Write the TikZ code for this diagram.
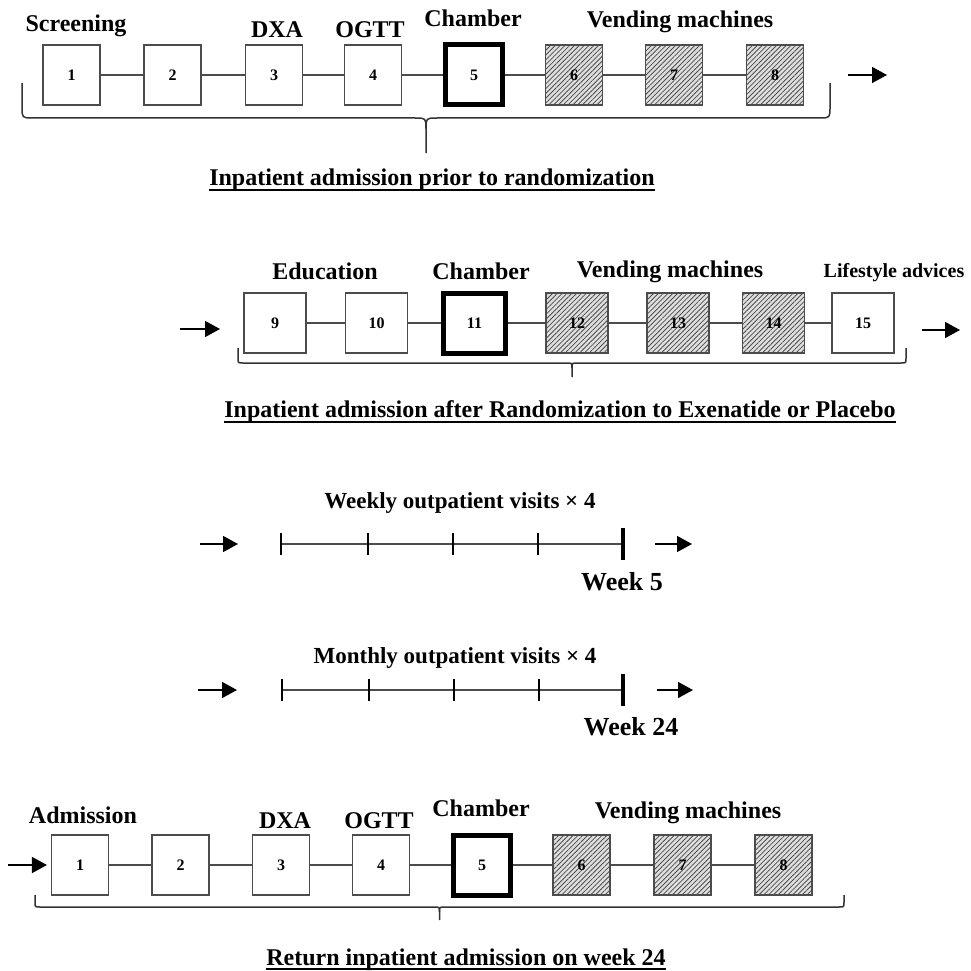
\documentclass[tikz,border=0pt]{standalone}
\usepackage{fontspec}
\setmainfont{Liberation Serif}
\usetikzlibrary{arrows.meta,patterns.meta}
\newcommand\fsz[1]{\fontsize{#1}{#1}\selectfont\bfseries}
\newcommand\mybrace[7]{%
 \draw[brc] (#1,#3) -- (#1,#4-#7) .. controls (#1,#4) .. (#1+#7,#4) -- (#6-#7,#4) .. controls (#6,#4) .. (#6,#4+#7) -- (#6,#5);
 \draw[brc] (#6,#4+#7) .. controls (#6,#4) .. (#6+#7,#4) -- (#2-#7,#4) .. controls (#2,#4) .. (#2,#4-#7) -- (#2,#3);}
\begin{document}
\begin{tikzpicture}[x=1pt,y=-1pt,
 box/.style={draw=black!70,line width=1.1pt,minimum width=57pt,minimum height=60pt,inner sep=0pt,font=\fsz{16}},
 wbox/.style={box,minimum width=62pt},
 chamb/.style={draw=black,line width=5pt},
 vend/.style={fill=gray!25,postaction={pattern={Lines[angle=45,distance=3.4pt,line width=0.8pt]},pattern color=black!70}},
 lbl/.style={anchor=base,inner sep=0pt,font=\fsz{24}},
 slbl/.style={anchor=base,inner sep=0pt,font=\fsz{20}},
 wlbl/.style={anchor=base,inner sep=0pt,font=\fsz{26}},
 ttl/.style={anchor=base,inner sep=0pt,font=\fsz{24}},
 uline/.style={line width=1.5pt},
 conn/.style={draw=black!70,line width=1.1pt},
 brc/.style={draw=black!80,line width=1.5pt},
 arr/.style={line width=1.5pt,-{Triangle[length=15pt,width=16pt]}},
 tl/.style={draw=black!70,line width=1.1pt},
 tick/.style={line width=2pt},
 bigtick/.style={line width=4.5pt}]
\useasboundingbox (0,0) rectangle (971,971);
% ---------- Row 1
\node[box] (a1) at (71.5,75) {1};
\node[box] (a2) at (172.5,75) {2};
\node[box] (a3) at (274,75) {3};
\node[box] (a4) at (373,75) {4};
\node[box,chamb] (a5) at (474,75) {5};
\node[box,vend] (a6) at (574,75) {6};
\node[box,vend] (a7) at (674,75) {7};
\node[box,vend] (a8) at (775,75) {8};
\foreach \i/\j in {1/2,2/3,3/4,4/5,5/6,6/7,7/8} \draw[conn] (a\i) -- (a\j);
\node[lbl] (la1) at (76,32) {Screening};
\node[lbl] (la3) at (277,38) {DXA};
\node[lbl] (la4) at (370,38) {OGTT};
\node[lbl] (la5) at (473,27) {Chamber};
\node[lbl] (la7) at (680,28) {Vending machines};
\coordinate (ar1s) at (848,75); \coordinate (ar1e) at (887,75);
\draw[arr] (ar1s) -- (ar1e);
\mybrace{22}{830}{83}{118}{153}{426}{11}
\node[ttl] (t1) at (432,185) {Inpatient admission prior to randomization};
\draw[uline] ([yshift=-5pt]t1.base west) -- ([yshift=-5pt]t1.base east);
% ---------- Row 2
\node[wbox] (b9) at (275,323) {9};
\node[wbox] (b10) at (376.5,323) {10};
\node[wbox,chamb] (b11) at (474.5,323) {11};
\node[wbox,vend] (b12) at (577,323) {12};
\node[wbox,vend] (b13) at (678,323) {13};
\node[wbox,vend] (b14) at (773.5,323) {14};
\node[wbox] (b15) at (863,323) {15};
\foreach \i/\j in {9/10,10/11,11/12,12/13,13/14,14/15} \draw[conn] (b\i) -- (b\j);
\node[lbl] (lb9) at (325,279) {Education};
\node[lbl] (lb11) at (481,279) {Chamber};
\node[lbl] (lb13) at (670,277) {Vending machines};
\node[slbl] (lb15) at (894,277) {Lifestyle advices};
\coordinate (ar2s) at (180,329); \coordinate (ar2e) at (220,329);
\draw[arr] (ar2s) -- (ar2e);
\coordinate (ar3s) at (922,330); \coordinate (ar3e) at (960,330);
\draw[arr] (ar3s) -- (ar3e);
\mybrace{238}{906}{348}{363}{377}{572}{5}
\node[ttl] (t2) at (560,417) {Inpatient admission after Randomization to Exenatide or Placebo};
\draw[uline] ([yshift=-5pt]t2.base west) -- ([yshift=-5pt]t2.base east);
% ---------- Row 3
\node[lbl,font=\fsz{23}] (l3) at (460,508) {Weekly outpatient visits × 4};
\coordinate (ar4s) at (200,544); \coordinate (ar4e) at (238,544);
\draw[arr] (ar4s) -- (ar4e);
\coordinate (w0) at (281,544); \coordinate (w1) at (368,544); \coordinate (w2) at (453,544);
\coordinate (w3) at (538,544); \coordinate (w4) at (623,544);
\draw[tl] (w0) -- (w4);
\foreach \c in {w0,w1,w2,w3} \draw[tick] ([yshift=11pt]\c) -- ([yshift=-11pt]\c);
\draw[bigtick] ([yshift=16pt]w4) -- ([yshift=-16pt]w4);
\coordinate (ar5s) at (655,544); \coordinate (ar5e) at (692,544);
\draw[arr] (ar5s) -- (ar5e);
\node[wlbl] (wk5) at (622,590) {Week 5};
% ---------- Row 4
\node[lbl,font=\fsz{23}] (l4) at (455,663) {Monthly outpatient visits × 4};
\coordinate (ar6s) at (198,690); \coordinate (ar6e) at (237,690);
\draw[arr] (ar6s) -- (ar6e);
\coordinate (m0) at (282,690); \coordinate (m1) at (369,690); \coordinate (m2) at (454,690);
\coordinate (m3) at (539,690); \coordinate (m4) at (623,690);
\draw[tl] (m0) -- (m4);
\foreach \c in {m0,m1,m2,m3} \draw[tick] ([yshift=11pt]\c) -- ([yshift=-11pt]\c);
\draw[bigtick] ([yshift=16pt]m4) -- ([yshift=-16pt]m4);
\coordinate (ar7s) at (657,690); \coordinate (ar7e) at (693,690);
\draw[arr] (ar7s) -- (ar7e);
\node[wlbl] (wk24) at (631,735) {Week 24};
% ---------- Row 5
\node[box] (c1) at (80,865) {1};
\node[box] (c2) at (180.5,865) {2};
\node[box] (c3) at (281,865) {3};
\node[box] (c4) at (381,865) {4};
\node[box,chamb] (c5) at (482,865) {5};
\node[box,vend] (c6) at (581.5,865) {6};
\node[box,vend] (c7) at (682.5,865) {7};
\node[box,vend] (c8) at (783.5,865) {8};
\foreach \i/\j in {1/2,2/3,3/4,4/5,5/6,6/7,7/8} \draw[conn] (c\i) -- (c\j);
\node[lbl] (lc1) at (83,823) {Admission};
\node[lbl] (lc3) at (285,828) {DXA};
\node[lbl] (lc4) at (379,828) {OGTT};
\node[lbl] (lc5) at (481,816) {Chamber};
\node[lbl] (lc7) at (688,818) {Vending machines};
\coordinate (ar8s) at (8,865);
\draw[arr,shorten >=4pt] (ar8s) -- (c1);
\mybrace{35}{844}{895}{907}{920}{439.5}{5}
\node[ttl] (t3) at (466,965) {Return inpatient admission on week 24};
\draw[uline] ([yshift=-4pt]t3.base west) -- ([yshift=-4pt]t3.base east);
\end{tikzpicture}
\end{document}
